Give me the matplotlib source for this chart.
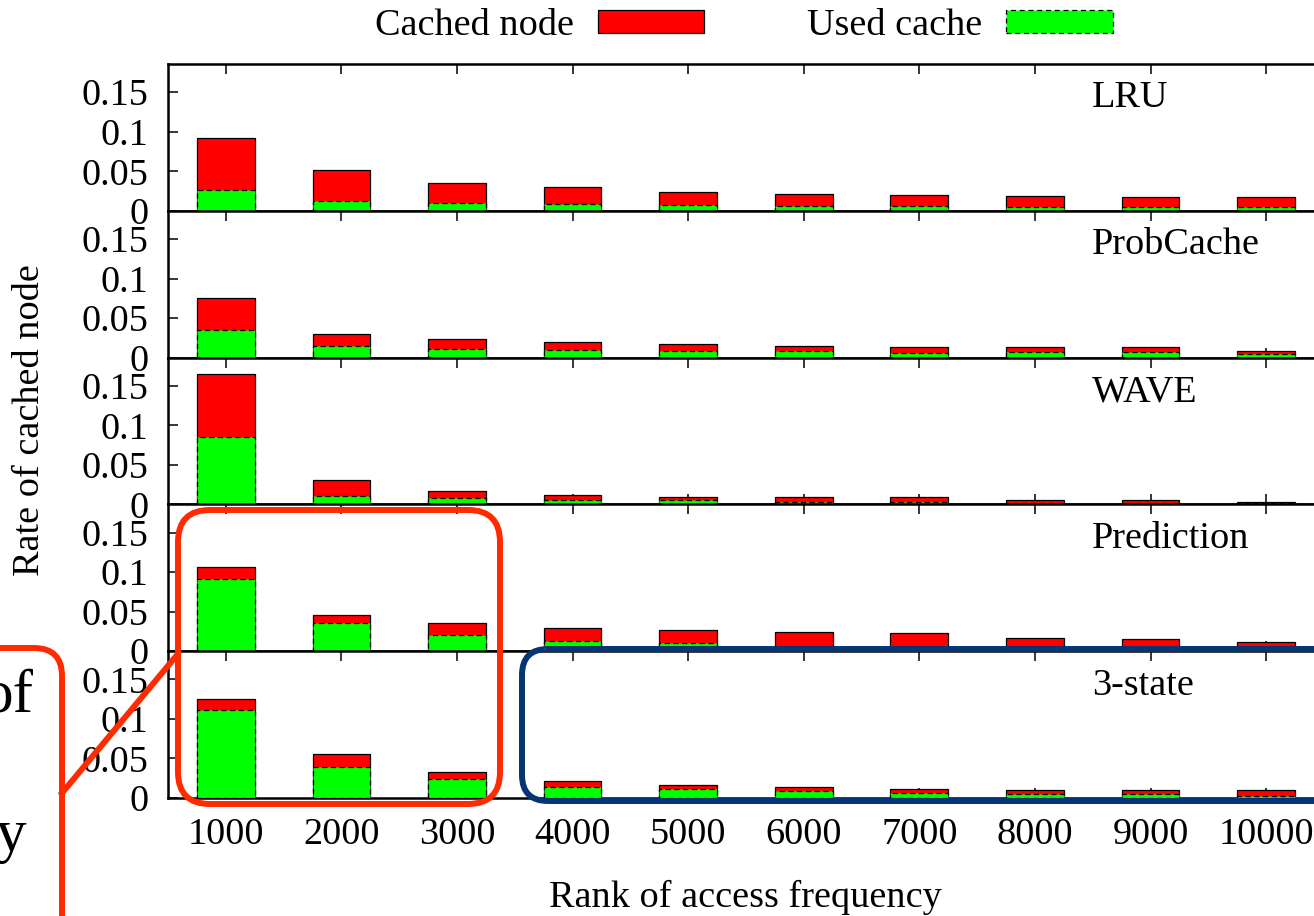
import matplotlib
matplotlib.use("Agg")
import matplotlib.pyplot as plt
from matplotlib.patches import FancyBboxPatch, Rectangle
from matplotlib.lines import Line2D
from matplotlib.transforms import IdentityTransform

plt.rcParams['font.family'] = ['Liberation Serif', 'DejaVu Serif']

ranks = [1000, 2000, 3000, 4000, 5000, 6000, 7000, 8000, 9000, 10000]
panel_names = ["LRU", "ProbCache", "WAVE", "Prediction", "3-state"]

lru_cached = [0.0915, 0.052, 0.035, 0.030, 0.0234, 0.0208, 0.0196, 0.0186, 0.0174, 0.0169]
lru_used = [0.026, 0.0123, 0.0098, 0.008, 0.0069, 0.0056, 0.0055, 0.0047, 0.0047, 0.0047]

prob_cached = [0.075, 0.030, 0.0229, 0.0203, 0.0173, 0.0148, 0.0131, 0.0131, 0.0131, 0.0089]
prob_used = [0.0347, 0.0144, 0.011, 0.0093, 0.0085, 0.008, 0.0064, 0.0076, 0.0076, 0.0046]

wave_cached = [0.165, 0.0305, 0.0169, 0.0123, 0.0098, 0.0093, 0.0089, 0.006, 0.006, 0.0034]
wave_used = [0.085, 0.0106, 0.0076, 0.006, 0.006, 0.003, 0.0034, 0.0021, 0.0021, 0.0013]

pred_cached = [0.1068, 0.0458, 0.0352, 0.0289, 0.0263, 0.0238, 0.0225, 0.0165, 0.0157, 0.011]
pred_used = [0.091, 0.0352, 0.020, 0.0123, 0.0102, 0.005, 0.002, 0.001, 0.001, 0.001]

three_cached = [0.1246, 0.0559, 0.0325, 0.0215, 0.016, 0.0136, 0.012, 0.0107, 0.0107, 0.0107]
three_used = [0.111, 0.0398, 0.0242, 0.014, 0.011, 0.0085, 0.0069, 0.0056, 0.0056, 0.003]

cached_series = [lru_cached, prob_cached, wave_cached, pred_cached, three_cached]
used_series = [lru_used, prob_used, wave_used, pred_used, three_used]

yticks = [0, 0.05, 0.1, 0.15]
ytick_labels = ["0", "0.05", "0.1", "0.15"]

W, H = 1314, 916
fig = plt.figure(figsize=(W / 100, H / 100), dpi=100)

left_px, right_px = 168, 1324
top_px, bottom_px = 64, 798
ph = (bottom_px - top_px) / 5.0
FS = 27.5

red = "#ff0000"
green = "#00ff00"

axes = []
for i in range(5):
    ptop = top_px + i * ph
    ax = fig.add_axes([left_px / W, 1 - (ptop + ph) / H, (right_px - left_px) / W, ph / H])
    ax.bar(ranks, cached_series[i], width=500, color=red, edgecolor="black", linewidth=0.9, zorder=2)
    ax.bar(ranks, used_series[i], width=500, color=green, edgecolor="black", linewidth=0.9,
           linestyle=(0, (4, 3)), zorder=3)
    ax.set_xlim(500, 10500)
    ax.set_ylim(0, 0.1856)
    ax.set_xticks(ranks)
    ax.set_yticks(yticks)
    ax.set_yticklabels(ytick_labels)
    ax.tick_params(axis="both", direction="in", length=7, width=1.1, labelsize=FS,
                   top=True, right=True, bottom=True, left=True)
    ax.tick_params(axis="y", pad=14)
    ax.tick_params(axis="x", pad=14)
    for s in ax.spines.values():
        s.set_linewidth(1.8)
    if i < 4:
        ax.set_xticklabels([])
    ax.text(0.799, 0.767, panel_names[i], transform=ax.transAxes, fontsize=FS,
            ha="left", va="center")
    axes.append(ax)

fig.text(30 / W, 1 - 420 / H, "Rate of cached node", rotation=90, fontsize=FS,
         ha="center", va="center")
fig.text(745 / W, 1 - 897 / H, "Rank of access frequency", fontsize=FS,
         ha="center", va="center")

h_cached = Rectangle((0, 0), 1, 1, facecolor=red, edgecolor="black", linewidth=0.9)
h_used = Rectangle((0, 0), 1, 1, facecolor=green, edgecolor="black", linewidth=0.9,
                   linestyle=(0, (4, 3)))
fig.legend([h_cached, h_used], ["Cached node", "Used cache"], loc="center",
           bbox_to_anchor=(744 / W, 1 - 26 / H), ncol=2, markerfirst=False, frameon=False,
           fontsize=FS, handlelength=2.78, handleheight=0.53, handletextpad=0.62,
           columnspacing=2.7, borderpad=0.1)

# annotation boxes (pixel coordinates, y from top)
def rbox(x0, y0, x1, y1, r, color):
    p = FancyBboxPatch((x0, H - y1), x1 - x0, y1 - y0,
                       boxstyle="round,pad=0,rounding_size=%f" % r,
                       transform=IdentityTransform(), facecolor="none",
                       edgecolor=color, linewidth=4.3, zorder=10, clip_on=False)
    fig.add_artist(p)

rbox(178, 510, 500, 804, 32, "#ff2a00")
rbox(522, 649, 1450, 801, 26, "#053573")
rbox(-300, 648, 62, 1100, 28, "#ff2a00")
fig.add_artist(Line2D([62, 177], [H - 793, H - 655], transform=IdentityTransform(),
                      color="#ff2a00", linewidth=4.3, zorder=10))

fig.text(34 / W, 1 - 697 / H, "of", fontsize=44, ha="right", va="center")
fig.text(26 / W, 1 - 836 / H, "y", fontsize=44, ha="right", va="center")

fig.savefig("out.png", dpi=100)
